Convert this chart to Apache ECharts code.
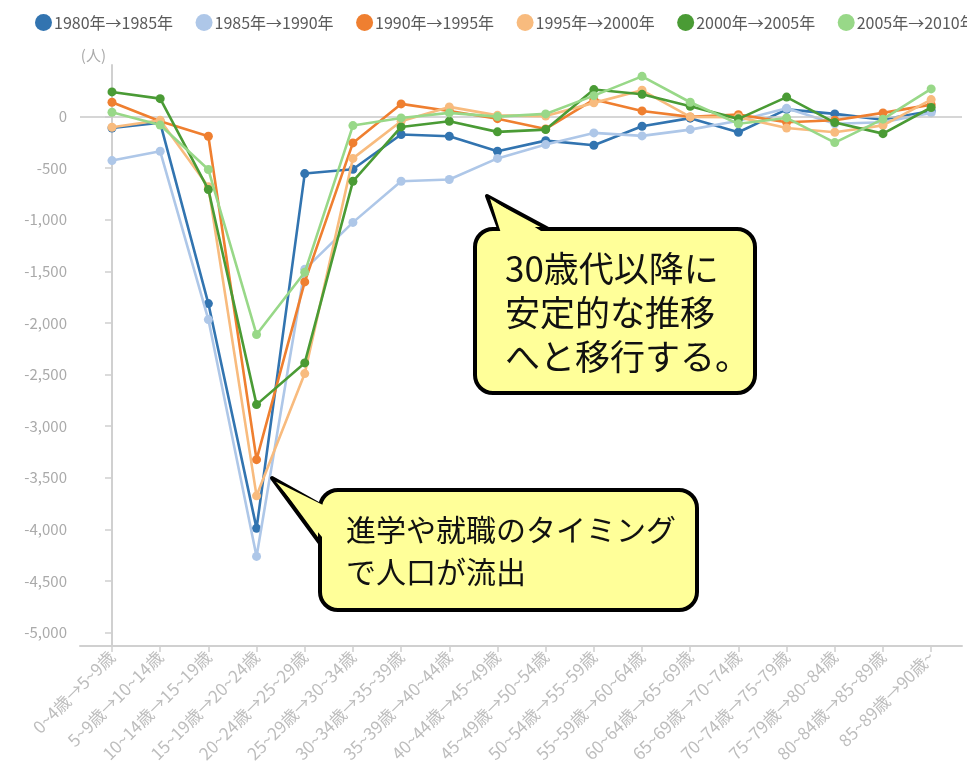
<!DOCTYPE html>
<html>
<head>
<meta charset="utf-8">
<script src="https://cdn.jsdelivr.net/npm/echarts@6/dist/echarts.min.js"></script>
<style>
html,body{margin:0;padding:0;background:#fff;}
#c{width:967px;height:771px;}
</style>
</head>
<body>
<div id="c"></div>
<script>
const categories = ['0~4歳→5~9歳','5~9歳→10~14歳','10~14歳→15~19歳','15~19歳→20~24歳','20~24歳→25~29歳','25~29歳→30~34歳','30~34歳→35~39歳','35~39歳→40~44歳','40~44歳→45~49歳','45~49歳→50~54歳','50~54歳→55~59歳','55~59歳→60~64歳','60~64歳→65~69歳','65~69歳→70~74歳','70~74歳→75~79歳','75~79歳→80~84歳','80~84歳→85~89歳','85~89歳→90歳~'];
const seriesNames = ['1980年→1985年','1985年→1990年','1990年→1995年','1995年→2000年','2000年→2005年','2005年→2010年'];
const s1980 = [-110, -60, -1812, -3990, -552, -510, -174, -190, -336, -233, -278, -94, -15, -152, 70, 26, -29, 55];
const s1985 = [-426, -336, -1967, -4262, -1480, -1025, -627, -610, -405, -271, -158, -187, -126, -40, 80, -70, -55, 36];
const s1990 = [139, -45, -190, -3324, -1602, -255, 123, 55, -20, -120, 165, 55, -3, 19, -55, -35, 36, 116];
const s1995 = [-103, -36, -680, -3675, -2490, -405, -45, 94, 12, 5, 133, 255, -3, -5, -110, -152, -85, 165];
const s2000 = [239, 174, -707, -2791, -2387, -627, -100, -45, -148, -126, 262, 216, 100, -22, 189, -58, -165, 88];
const s2005 = [42, -82, -513, -2112, -1509, -87, -13, 36, 0, 26, 203, 390, 139, -70, -13, -252, -25, 268];
const yTicks = [0, -500, -1000, -1500, -2000, -2500, -3000, -3500, -4000, -4500, -5000];
const yUnit = '(人)';
const note1 = ['30歳代以降に', '安定的な推移', 'へと移行する。'];
const note2 = ['進学や就職のタイミング', 'で人口が流出'];

const colors = ['#3274b0', '#aec7e8', '#ef7f30', '#f8bb7e', '#4a9b35', '#98d888'];
const allData = [s1980, s1985, s1990, s1995, s2000, s2005];
const xIdx = categories.map((c, i) => i);

function fmt(v) {
  const a = Math.abs(v).toString().replace(/\B(?=(\d{3})+(?!\d))/g, ',');
  return (v < 0 ? '-' : '') + a;
}

const series = allData.map((d, k) => ({
  name: seriesNames[k],
  type: 'line',
  data: d.map((v, i) => [i, v]),
  symbol: 'circle',
  symbolSize: 9,
  lineStyle: { width: 2.6, color: colors[k] },
  itemStyle: { color: colors[k] },
  z: 3 + k,
  emphasis: { disabled: true }
}));
series.unshift({
  name: '_zero',
  type: 'line',
  data: [],
  z: 1,
  markLine: {
    silent: true,
    symbol: 'none',
    label: { show: false },
    lineStyle: { color: '#c8c8c8', type: 'solid', width: 1.5 },
    data: [{ yAxis: 0 }]
  }
});

const font = '"Noto Sans CJK JP", "Noto Sans", sans-serif';

function callout(x, y, w, h, tip, b1, b2, lines, fs, tx, ty, lh) {
  const els = [];
  els.push({ type: 'polygon', shape: { points: [tip, b1, b2] }, style: { fill: '#ffff99', stroke: '#000', lineWidth: 4, lineJoin: 'round' }, z: 100 });
  els.push({ type: 'rect', shape: { x: x, y: y, width: w, height: h, r: 18 }, style: { fill: '#ffff99', stroke: '#000', lineWidth: 4 }, z: 101 });
  const cx = (tip[0] + b1[0] + b2[0]) / 3, cy = (tip[1] + b1[1] + b2[1]) / 3;
  const shrink = p => [p[0] + (cx - p[0]) * 0.12, p[1] + (cy - p[1]) * 0.12];
  const inward = p => {
    const q = shrink(p);
    if (Math.abs(p[1] - y) < 6) return [q[0], y + 6];
    return [x + 6, q[1]];
  };
  els.push({ type: 'polygon', shape: { points: [shrink(tip), inward(b1), inward(b2)] }, style: { fill: '#ffff99' }, z: 102 });
  lines.forEach((t, i) => {
    els.push({ type: 'text', x: tx, y: ty + i * lh, style: { text: t, fill: '#111', font: fs + 'px ' + font, textVerticalAlign: 'middle', textAlign: 'left' }, z: 103 });
  });
  return els;
}

const chart = echarts.init(document.getElementById('c'), null, { renderer: 'canvas' });
chart.setOption({
  animation: false,
  color: colors,
  textStyle: { fontFamily: font },
  legend: {
    data: seriesNames,
    left: 30, top: 9, width: 1300,
    icon: 'circle', itemWidth: 17, itemHeight: 17, itemGap: 22.5,
    textStyle: { color: '#5a5a5a', fontSize: 16, fontFamily: font, padding: [0, 0, 0, -3] }
  },
  grid: { left: 80, right: 5, top: 65, bottom: 125, containLabel: false },
  xAxis: {
    type: 'value',
    min: -0.664, max: 17.64,
    splitLine: { show: false },
    axisLine: { show: true, onZero: false, lineStyle: { color: '#d0d0d0', width: 2 } },
    axisTick: { show: true, customValues: xIdx, length: 6, lineStyle: { color: '#d0d0d0', width: 1.5 } },
    axisLabel: { customValues: xIdx, rotate: 45, color: '#bdbdbd', fontSize: 17, margin: 8, formatter: v => categories[Math.round(v)] }
  },
  yAxis: {
    type: 'value',
    min: -5130, max: 500,
    name: yUnit, nameLocation: 'end', nameGap: 2,
    nameTextStyle: { color: '#aaa', fontSize: 15, align: 'right', padding: [0, 6, 0, 0] },
    splitLine: { show: false },
    axisLine: { show: true, lineStyle: { color: '#d0d0d0', width: 2 } },
    axisTick: { show: true, customValues: yTicks, length: 7, lineStyle: { color: '#d0d0d0', width: 1.5 } },
    axisLabel: { customValues: yTicks, color: '#aaa', fontSize: 15, margin: 13, formatter: v => fmt(v) }
  },
  series: series,
  graphic: [].concat(
    callout(475, 229, 280, 164, [487, 196], [500, 231], [552, 231], note1, 35, 505, 269, 44),
    callout(320, 490, 377, 120, [272, 478], [322, 506], [322, 546], note2, 30, 346, 530, 42)
  )
});
</script>
</body>
</html>
